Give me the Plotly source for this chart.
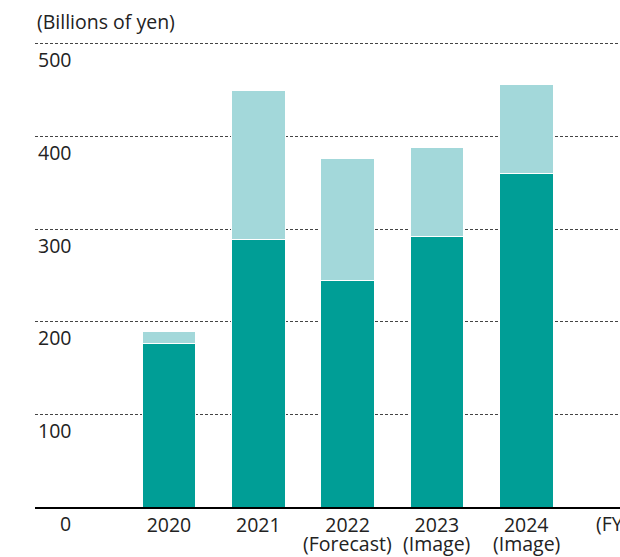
import plotly.graph_objects as go

# ---- data ----
categories = ["2020", "2021", "2022", "2023", "2024"]
category_notes = ["", "", "(Forecast)", "(Image)", "(Image)"]
base_values = [177, 289, 245, 292, 360]     # dark teal segment
upper_values = [13, 161, 131, 96, 96]       # light teal segment
y_ticks = [0, 100, 200, 300, 400, 500]
y_tick_labels = ["0", "100", "200", "300", "400", "500"]

DARK = "#009E96"
LIGHT = "#A3D8DA"
TEXT = "#222222"
FONT = "Open Sans"
FS = 19.5

fig = go.Figure()
fig.add_trace(go.Bar(x=categories, y=base_values, marker=dict(color=DARK, line=dict(color="white", width=1)),
                     width=0.6, showlegend=False, hoverinfo="skip"))
fig.add_trace(go.Bar(x=categories, y=upper_values, marker=dict(color=LIGHT, line=dict(color="white", width=1)),
                     width=0.6, showlegend=False, hoverinfo="skip"))

annotations = []
for v, t in zip(y_ticks, y_tick_labels):
    annotations.append(dict(text=t, xref="paper", x=0.065, xanchor="right", yref="y", y=v,
                            yanchor="middle", yshift=-16, showarrow=False,
                            font=dict(family=FONT, size=FS, color=TEXT)))
for i, n in enumerate(category_notes):
    if n:
        annotations.append(dict(text=n, xref="x", x=i, xanchor="center", yref="paper", y=0,
                                yanchor="middle", yshift=-36, showarrow=False,
                                font=dict(family=FONT, size=FS, color=TEXT)))
annotations.append(dict(text="(Billions of yen)", xref="paper", x=0, xanchor="left", yref="paper", y=1,
                        yanchor="middle", yshift=19, showarrow=False,
                        font=dict(family=FONT, size=FS, color=TEXT)))
annotations.append(dict(text="(FY)", xref="paper", x=0.955, xanchor="left", yref="paper", y=0,
                        yanchor="middle", yshift=-16, showarrow=False,
                        font=dict(family=FONT, size=FS, color=TEXT)))

fig.update_layout(
    width=620, height=557,
    margin=dict(l=35, r=0, t=40, b=50, autoexpand=False),
    barmode="stack",
    plot_bgcolor="white", paper_bgcolor="white",
    font=dict(family=FONT, size=FS, color=TEXT),
    annotations=annotations,
    xaxis=dict(type="category", range=[-1.5, 5.05], showgrid=False, showline=True, automargin=False,
               linecolor="black", linewidth=1.5, ticks="", tickfont=dict(family=FONT, size=FS, color=TEXT),
               fixedrange=True),
    yaxis=dict(range=[0, 504.3], tickvals=y_ticks[1:], showticklabels=False, showgrid=True, automargin=False,
               gridcolor="#444444", gridwidth=1, griddash="3px,2px", zeroline=False, showline=False,
               fixedrange=True),
)

fig.write_html("out.html")
